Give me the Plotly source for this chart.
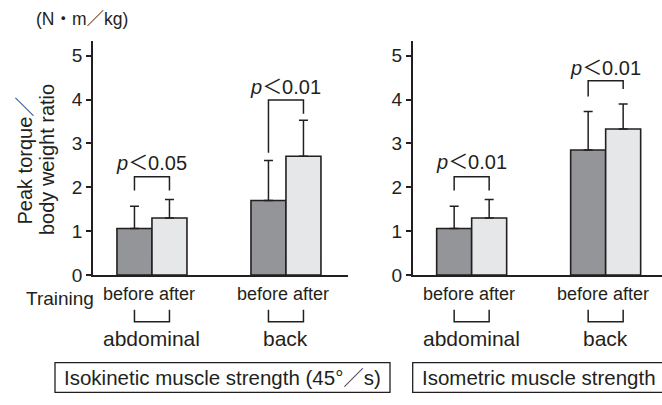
import plotly.graph_objects as go

# ---------------- data ----------------
groups = ["abdominal", "back"]
phases = ["before", "after"]

isokinetic_before = [1.06, 1.70]
isokinetic_before_sd = [0.51, 0.91]
isokinetic_after = [1.30, 2.71]
isokinetic_after_sd = [0.42, 0.82]

isometric_before = [1.06, 2.85]
isometric_before_sd = [0.51, 0.88]
isometric_after = [1.30, 3.33]
isometric_after_sd = [0.42, 0.57]

p_labels_isokinetic = ["p＜0.05", "p＜0.01"]
p_labels_isometric = ["p＜0.01", "p＜0.01"]

y_ticks = [0, 1, 2, 3, 4, 5]
panel_titles = ["Isokinetic muscle strength (45°／s)", "Isometric muscle strength"]

# ---------------- styling ----------------
W, H = 662, 405
FONT = "Liberation Sans, Arial, Noto Sans CJK JP, sans-serif"
INK = "#231f20"
DARK = "#939598"
LIGHT = "#e6e7e8"
UNIT = 134.0          # px per category unit
BARGAP = 1 - 70.0 / UNIT
OFF = (1 - BARGAP) / 4


def px(x):
    return x / W


def py(y):
    return 1 - y / H


fig = go.Figure()

panels = [
    dict(xa="x", ya="y", x0=93, x1=348,
         before=isokinetic_before, bsd=isokinetic_before_sd,
         after=isokinetic_after, asd=isokinetic_after_sd,
         plabels=p_labels_isokinetic,
         brackets=[(2.24, 1.93, 1.93), (3.99, 2.79, 3.68)],
         ptext_y=[2.55, 4.29]),
    dict(xa="x2", ya="y2", x0=412.7, x1=662,
         before=isometric_before, bsd=isometric_before_sd,
         after=isometric_after, asd=isometric_after_sd,
         plabels=p_labels_isometric,
         brackets=[(2.24, 1.93, 1.93), (4.43, 4.07, 4.24)],
         ptext_y=[2.57, 4.73]),
]

shapes = []
annotations = []

for i, pn in enumerate(panels):
    for vals, sds, col, name in [(pn["before"], pn["bsd"], DARK, "before"),
                                 (pn["after"], pn["asd"], LIGHT, "after")]:
        fig.add_trace(go.Bar(
            x=groups, y=vals, name=name, xaxis=pn["xa"], yaxis=pn["ya"],
            marker=dict(color=col, line=dict(color=INK, width=1.6)),
            error_y=dict(type="data", symmetric=False, array=sds,
                         arrayminus=[0] * len(sds), color=INK,
                         thickness=1.5, width=4.5),
            showlegend=False, hoverinfo="skip"))

    xref = pn["xa"]
    yref = pn["ya"]
    for g, (top, l0, l1) in enumerate(pn["brackets"]):
        xa, xb = g - OFF, g + OFF
        shapes.append(dict(type="path", xref=xref, yref=yref,
                           path=f"M {xa},{l0} L {xa},{top} L {xb},{top} L {xb},{l1}",
                           line=dict(color=INK, width=1.5)))
        lab = pn["plabels"][g]
        annotations.append(dict(xref=xref, yref=yref, x=g, y=pn["ptext_y"][g],
                                text="<i>p</i>" + lab[1:], showarrow=False,
                                font=dict(family=FONT, size=20, color=INK),
                                xanchor="center", yanchor="middle"))
        # before / after labels under axis
        annotations.append(dict(xref=xref, yref="paper", x=g - 0.02, y=py(302.5),
                                text=" ".join(phases), showarrow=False,
                                font=dict(family=FONT, size=18, color=INK),
                                xanchor="center", yanchor="middle"))
        shapes.append(dict(type="path", xref=xref, yref="paper",
                           path=f"M {xa},{py(318.3)} L {xa},{py(330.7)} L {xb},{py(330.7)} L {xb},{py(318.3)}",
                           line=dict(color=INK, width=1.5)))
        annotations.append(dict(xref=xref, yref="paper", x=g, y=py(347.5),
                                text=groups[g], showarrow=False,
                                font=dict(family=FONT, size=21, color=INK),
                                xanchor="center", yanchor="middle"))

axis_common = dict(showgrid=False, zeroline=False, showline=True,
                   linecolor=INK, linewidth=1.5)

x_len0 = (348 - 93) / UNIT
x_len1 = (662 - 412.7) / UNIT
fig.update_layout(
    width=W, height=H,
    margin=dict(l=0, r=0, t=0, b=0),
    paper_bgcolor="white", plot_bgcolor="white",
    barmode="group", bargap=BARGAP, bargroupgap=0,
    font=dict(family=FONT, color=INK),
    xaxis=dict(domain=[px(93), px(348)], range=[-0.44, -0.44 + x_len0],
               showticklabels=False, ticks="", **axis_common),
    xaxis2=dict(domain=[px(412.7), 1.0], range=[-0.44, -0.44 + x_len1],
                showticklabels=False, ticks="", anchor="y2", **axis_common),
    yaxis=dict(domain=[py(282.7), py(42)], range=[0, 5.34],
               tickvals=y_ticks, ticks="outside", ticklen=5, tickwidth=1.5,
               tickcolor=INK, tickfont=dict(family=FONT, size=19, color=INK),
               anchor="x", **axis_common),
    yaxis2=dict(domain=[py(282.7), py(42)], range=[0, 5.34],
                tickvals=y_ticks, ticks="outside", ticklen=5, tickwidth=1.5,
                tickcolor=INK, tickfont=dict(family=FONT, size=19, color=INK),
                anchor="x2", **axis_common),
)

# unit label, y-title lines, "Training"
annotations += [
    dict(xref="paper", yref="paper", x=px(34), y=py(20), text="(N・m／kg)",
         showarrow=False, xanchor="left", yanchor="middle",
         font=dict(family=FONT, size=17.5, color=INK)),
    dict(xref="paper", yref="paper", x=px(25), y=py(165), text="Peak torque／",
         textangle=-90, showarrow=False, xanchor="center", yanchor="middle",
         font=dict(family=FONT, size=20, color=INK)),
    dict(xref="paper", yref="paper", x=px(46.5), y=py(164), text="body weight ratio",
         textangle=-90, showarrow=False, xanchor="center", yanchor="middle",
         font=dict(family=FONT, size=20, color=INK)),
    dict(xref="paper", yref="paper", x=px(96), y=py(306.5), text="Training",
         showarrow=False, xanchor="right", yanchor="middle",
         font=dict(family=FONT, size=19, color=INK)),
    dict(xref="paper", yref="paper", x=px(222.5), y=py(388), text=panel_titles[0],
         showarrow=False, xanchor="center", yanchor="middle",
         font=dict(family=FONT, size=20.5, color=INK)),
    dict(xref="paper", yref="paper", x=px(420), y=py(388), text=panel_titles[1],
         showarrow=False, xanchor="left", yanchor="middle",
         font=dict(family=FONT, size=20.5, color=INK)),
]

shapes += [
    dict(type="rect", xref="paper", yref="paper", x0=px(55), x1=px(390),
         y0=py(403.3), y1=py(372.7), line=dict(color=INK, width=1.3)),
    dict(type="rect", xref="paper", yref="paper", x0=px(412.7), x1=px(720),
         y0=py(403.3), y1=py(372.7), line=dict(color=INK, width=1.3)),
]

fig.update_layout(shapes=shapes, annotations=annotations)
fig.write_html("out.html")
